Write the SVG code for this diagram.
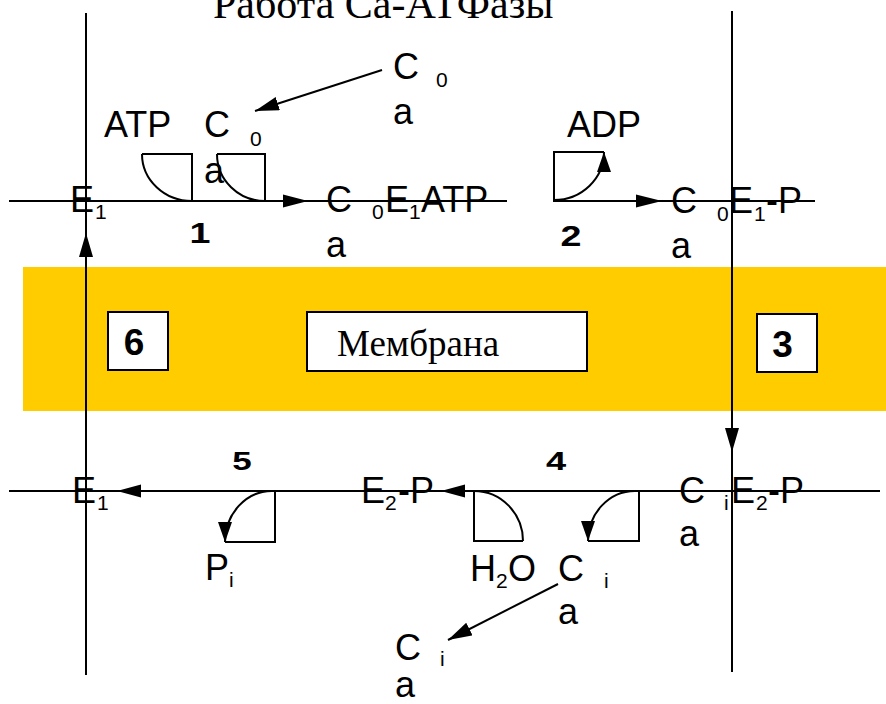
<svg xmlns="http://www.w3.org/2000/svg" width="886" height="704" viewBox="0 0 886 704">
<style>
.t{font-family:"Liberation Sans",Arial,sans-serif;font-size:36px;fill:#000}
.s{font-family:"Liberation Sans",Arial,sans-serif;font-size:21px;fill:#000}
.b{font-family:"Liberation Sans",Arial,sans-serif;font-weight:bold;fill:#000;text-anchor:middle}
.sr{font-family:"Liberation Serif","Times New Roman",serif;fill:#000}
.ln{stroke:#000;stroke-width:2;fill:none}
.ah{fill:#000;stroke:none}
.box{fill:#fff;stroke:#000;stroke-width:2}
</style>
<defs>
<marker id="arr" markerUnits="userSpaceOnUse" markerWidth="26" markerHeight="16" refX="24" refY="7" orient="auto">
<path d="M0,0 L24,7 L0,14 z" fill="#000"/>
</marker>
<marker id="carr" markerUnits="userSpaceOnUse" markerWidth="22" markerHeight="16" refX="20" refY="7" orient="auto">
<path d="M0,0 L20,7 L0,14 z" fill="#000"/>
</marker>
</defs>

<rect id="membrane-band" x="23" y="267" width="863" height="144" fill="#FFCC00"/>

<text class="sr" x="213" y="18" font-size="42">Работа Ca-АТФазы</text>

<g id="connectors">
<line class="ln" x1="86" y1="13" x2="86" y2="675"/>
<polygon class="ah" points="86,233 79,257 93,257"/>
<line class="ln" x1="732" y1="11" x2="732" y2="672"/>
<polygon class="ah" points="732,452 725,428 739,428"/>
<line class="ln" x1="9" y1="201" x2="507" y2="201"/>
<line class="ln" x1="553" y1="201" x2="815" y2="201"/>
<polygon class="ah" points="308,201 283,194.5 283,207.5"/>
<polygon class="ah" points="662,201 636,194.5 636,207.5"/>
<line class="ln" x1="9" y1="491" x2="880" y2="491"/>
<polygon class="ah" points="117,491 141,484.5 141,497.5"/>
<polygon class="ah" points="441,491 465,484.5 465,497.5"/>
<line class="ln" x1="382" y1="70" x2="255" y2="111" marker-end="url(#arr)"/>
<line class="ln" x1="558" y1="584" x2="448" y2="640" marker-end="url(#arr)"/>
</g>

<g id="step1-atp">
<path class="ln" d="M142,154 H192 V201 A50,47 0 0 1 142,154"/>
<text class="t" x="104" y="137">ATP</text>
</g>
<g id="step1-ca">
<path class="ln" d="M217,154 H265 V201 A48,47 0 0 1 217,154"/>
<text class="t" x="204" y="137">C</text>
<text class="s" x="250" y="146">0</text>
<text class="t" x="204" y="183">a</text>
</g>
<g id="ca-out">
<text class="t" x="393" y="79">C</text>
<text class="s" x="436" y="87">0</text>
<text class="t" x="393" y="124">a</text>
</g>
<g id="e1-top">
<text class="t" x="70" y="212">E</text>
<text class="s" x="95" y="219">1</text>
</g>
<g id="label1"><text class="b" transform="translate(200,243) scale(1.3,1)" font-size="29">1</text></g>
<g id="ca0-e1-atp">
<text class="t" x="326" y="212">C</text>
<text class="s" x="372" y="219">0</text>
<text class="t" x="385" y="212">E</text>
<text class="s" x="409" y="219">1</text>
<text class="t" x="421" y="212">ATP</text>
<text class="t" x="326" y="257">a</text>
</g>
<g id="step2-adp">
<path class="ln" d="M604,152 H554 V200"/>
<path class="ln" d="M554,200 A50,48 0 0 0 604,152" marker-end="url(#carr)"/>
<text class="t" x="567" y="137">ADP</text>
</g>
<g id="label2"><text class="b" transform="translate(571,246) scale(1.3,1)" font-size="29">2</text></g>
<g id="ca0-e1-p">
<text class="t" x="671" y="213">C</text>
<text class="s" x="717" y="221">0</text>
<text class="t" x="729" y="213">E</text>
<text class="s" x="754" y="221">1</text>
<text class="t" x="766" y="213">-P</text>
<text class="t" x="671" y="258">a</text>
</g>

<g id="box6">
<rect class="box" x="108" y="312" width="60" height="58"/>
<text class="b" x="134" y="355" font-size="37">6</text>
</g>
<g id="membrane-label">
<rect class="box" x="307" y="312" width="280" height="59"/>
<text class="sr" x="337" y="356" font-size="37">Мембрана</text>
</g>
<g id="box3">
<rect class="box" x="757" y="314" width="60" height="58"/>
<text class="b" x="782.5" y="357" font-size="37">3</text>
</g>

<g id="e1-bottom">
<text class="t" x="72" y="503">E</text>
<text class="s" x="97" y="510">1</text>
</g>
<g id="label5"><text class="b" transform="translate(242,470) scale(1.4,1)" font-size="25">5</text></g>
<g id="step5-pi">
<path class="ln" d="M275,491 V542 H225"/>
<path class="ln" d="M272,491 A47,51 0 0 0 225,542" marker-end="url(#carr)"/>
<text class="t" x="205" y="580">P</text>
<text class="s" x="229" y="587">i</text>
</g>
<g id="e2-p">
<text class="t" x="361" y="503">E</text>
<text class="s" x="385" y="510">2</text>
<text class="t" x="398" y="503">-P</text>
</g>
<g id="label4"><text class="b" transform="translate(556,470) scale(1.45,1)" font-size="25">4</text></g>
<g id="step4-h2o">
<path class="ln" d="M474,491 V541 H523"/>
<path class="ln" d="M474,491 A49,50 0 0 1 523,541"/>
<text class="t" x="470" y="581">H</text>
<text class="s" x="496" y="588">2</text>
<text class="t" x="508" y="581">O</text>
</g>
<g id="step4-ca">
<path class="ln" d="M639,491 V541 H588"/>
<path class="ln" d="M635,491 A47,50 0 0 0 588,541" marker-end="url(#carr)"/>
<text class="t" x="558" y="581">C</text>
<text class="s" x="604" y="588">i</text>
<text class="t" x="558" y="624">a</text>
</g>
<g id="ca-in">
<text class="t" x="395" y="660">C</text>
<text class="s" x="440" y="666">i</text>
<text class="t" x="395" y="697">a</text>
</g>
<g id="cai-e2-p">
<text class="t" x="679" y="503">C</text>
<text class="s" x="724" y="510">i</text>
<text class="t" x="731" y="503">E</text>
<text class="s" x="756" y="510">2</text>
<text class="t" x="768" y="503">-P</text>
<text class="t" x="679" y="546">a</text>
</g>
</svg>
